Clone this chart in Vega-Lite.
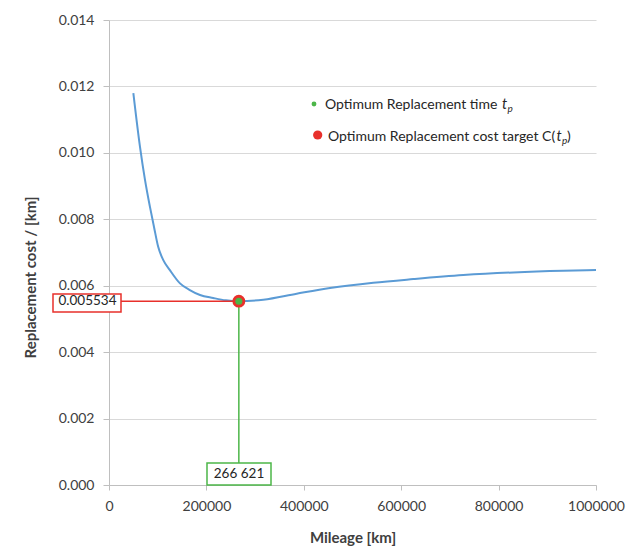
{
  "$schema": "https://vega.github.io/schema/vega-lite/v6.json",
  "autosize": {"type": "none"},
  "padding": {"left": 109, "top": 20, "right": 42, "bottom": 72},
  "width": 487,
  "height": 465,
  "background": "white",
  "config": {
    "font": "Lato",
    "view": {"stroke": null},
    "axis": {"labelFont": "Lato", "titleFont": "Lato", "labelColor": "#404040", "titleColor": "#404040"}
  },
  "datasets": {
    "curve": [
      {"mileage": 50000, "cost": 0.0118},
      {"mileage": 63650, "cost": 0.01018},
      {"mileage": 74000, "cost": 0.00918},
      {"mileage": 84000, "cost": 0.00838},
      {"mileage": 92400, "cost": 0.00777},
      {"mileage": 101000, "cost": 0.00717},
      {"mileage": 111500, "cost": 0.00677},
      {"mileage": 125000, "cost": 0.00647},
      {"mileage": 145800, "cost": 0.00607},
      {"mileage": 166000, "cost": 0.00587},
      {"mileage": 186900, "cost": 0.00572},
      {"mileage": 214000, "cost": 0.00563},
      {"mileage": 240000, "cost": 0.00556},
      {"mileage": 266621, "cost": 0.005534},
      {"mileage": 316800, "cost": 0.00558},
      {"mileage": 385400, "cost": 0.00576},
      {"mileage": 453800, "cost": 0.00593},
      {"mileage": 542700, "cost": 0.00609},
      {"mileage": 624900, "cost": 0.0062},
      {"mileage": 727500, "cost": 0.00632},
      {"mileage": 830200, "cost": 0.0064},
      {"mileage": 932900, "cost": 0.00645},
      {"mileage": 1000000, "cost": 0.00647}
    ],
    "optimum": [
      {"mileage": 266621, "cost": 0.005534, "axis_mileage": 0, "axis_cost": 0.000662}
    ],
    "red_box": [
      {"mileage": -114990, "mileage_end": 24641, "cost": 0.00575, "cost_end": 0.005209, "text_mileage": -44148, "text_cost": 0.005534, "label": "0.005534"}
    ],
    "green_box": [
      {"mileage": 201232, "mileage_end": 332649, "cost": 0.000662, "cost_end": 0, "text_mileage": 266940, "text_cost": 0.000331, "label": "266 621"}
    ],
    "legend": [
      {"mileage": 420945, "cost": 0.011471, "item": "time", "text_mileage": 443532, "text_cost": 0.011441, "label": "Optimum Replacement time", "t_mileage": 806982, "p_mileage": 818275},
      {"mileage": 428542, "cost": 0.010538, "item": "cost", "text_mileage": 449692, "text_cost": 0.010477, "label": "Optimum Replacement cost target C(", "t_mileage": 918891, "p_mileage": 930185, "close_mileage": 940452}
    ]
  },
  "layer": [
    {
      "data": {"name": "curve"},
      "mark": {"type": "line", "interpolate": "monotone", "color": "#5b9bd5", "strokeWidth": 2},
      "encoding": {
        "x": {
          "field": "mileage", "type": "quantitative",
          "scale": {"domain": [0, 1000000], "nice": false, "zero": false},
          "axis": {
            "title": "Mileage [km]", "values": [0, 200000, 400000, 600000, 800000, 1000000], "format": "d",
            "grid": false, "domainColor": "#bfbfbf", "tickColor": "#bfbfbf", "tickSize": 5,
            "labelPadding": 9, "labelFontSize": 14, "titleFontSize": 15, "titleFontWeight": "bold",
            "titleY": 52, "titleBaseline": "middle", "labelFlush": false
          }
        },
        "y": {
          "field": "cost", "type": "quantitative",
          "scale": {"domain": [0, 0.014], "nice": false, "zero": false},
          "axis": {
            "title": "Replacement cost / [km]", "values": [0, 0.002, 0.004, 0.006, 0.008, 0.01, 0.012, 0.014], "format": ".3f",
            "grid": true, "gridColor": "#d9d9d9", "domainColor": "#bfbfbf", "tickColor": "#bfbfbf", "tickSize": 6,
            "labelPadding": 9, "labelFontSize": 14, "titleFontSize": 15, "titleFontWeight": "bold",
            "titleX": -79, "titleY": 257, "titleAngle": -90, "titleBaseline": "middle", "titleAlign": "center", "labelFlush": false
          }
        }
      }
    },
    {
      "data": {"name": "optimum"},
      "mark": {"type": "rule", "color": "#e8302b", "strokeWidth": 1.5},
      "encoding": {
        "x": {"field": "axis_mileage", "type": "quantitative"},
        "x2": {"field": "mileage"},
        "y": {"field": "cost", "type": "quantitative"}
      }
    },
    {
      "data": {"name": "optimum"},
      "mark": {"type": "rule", "color": "#4cb648", "strokeWidth": 1.5},
      "encoding": {
        "x": {"field": "mileage", "type": "quantitative"},
        "y": {"field": "cost", "type": "quantitative"},
        "y2": {"field": "axis_cost"}
      }
    },
    {
      "data": {"name": "red_box"},
      "mark": {"type": "rect", "fill": "white", "stroke": "#e8302b", "strokeWidth": 1.5},
      "encoding": {
        "x": {"field": "mileage", "type": "quantitative"},
        "x2": {"field": "mileage_end"},
        "y": {"field": "cost", "type": "quantitative"},
        "y2": {"field": "cost_end"}
      }
    },
    {
      "data": {"name": "green_box"},
      "mark": {"type": "rect", "fill": "white", "stroke": "#4cb648", "strokeWidth": 1.5},
      "encoding": {
        "x": {"field": "mileage", "type": "quantitative"},
        "x2": {"field": "mileage_end"},
        "y": {"field": "cost", "type": "quantitative"},
        "y2": {"field": "cost_end"}
      }
    },
    {
      "data": {"name": "red_box"},
      "mark": {"type": "text", "font": "Lato", "fontSize": 13.5, "color": "#262626", "align": "center", "baseline": "middle"},
      "encoding": {
        "x": {"field": "text_mileage", "type": "quantitative"},
        "y": {"field": "text_cost", "type": "quantitative"},
        "text": {"field": "label"}
      }
    },
    {
      "data": {"name": "green_box"},
      "mark": {"type": "text", "font": "Lato", "fontSize": 13.5, "color": "#262626", "align": "center", "baseline": "middle"},
      "encoding": {
        "x": {"field": "text_mileage", "type": "quantitative"},
        "y": {"field": "text_cost", "type": "quantitative"},
        "text": {"field": "label"}
      }
    },
    {
      "data": {"name": "optimum"},
      "mark": {"type": "point", "filled": true, "color": "#e8302b", "size": 165, "opacity": 1},
      "encoding": {
        "x": {"field": "mileage", "type": "quantitative"},
        "y": {"field": "cost", "type": "quantitative"}
      }
    },
    {
      "data": {"name": "optimum"},
      "mark": {"type": "point", "filled": true, "color": "#4cb648", "size": 50, "opacity": 1},
      "encoding": {
        "x": {"field": "mileage", "type": "quantitative"},
        "y": {"field": "cost", "type": "quantitative"}
      }
    },
    {
      "data": {"name": "legend"},
      "mark": {"type": "point", "filled": true, "opacity": 1},
      "encoding": {
        "x": {"field": "mileage", "type": "quantitative"},
        "y": {"field": "cost", "type": "quantitative"},
        "color": {"field": "item", "type": "nominal", "scale": {"domain": ["time", "cost"], "range": ["#4cb648", "#e8302b"]}, "legend": null},
        "size": {"field": "item", "type": "nominal", "scale": {"domain": ["time", "cost"], "range": [24, 85]}, "legend": null}
      }
    },
    {
      "data": {"name": "legend"},
      "mark": {"type": "text", "font": "Lato", "fontSize": 14, "color": "#262626", "align": "left", "baseline": "middle"},
      "encoding": {
        "x": {"field": "text_mileage", "type": "quantitative"},
        "y": {"field": "text_cost", "type": "quantitative"},
        "text": {"field": "label"}
      }
    },
    {
      "data": {"name": "legend"},
      "mark": {"type": "text", "font": "Lato", "fontSize": 14.5, "fontStyle": "italic", "color": "#262626", "align": "left", "baseline": "middle", "text": "t"},
      "encoding": {
        "x": {"field": "t_mileage", "type": "quantitative"},
        "y": {"field": "text_cost", "type": "quantitative"}
      }
    },
    {
      "data": {"name": "legend"},
      "mark": {"type": "text", "font": "Lato", "fontSize": 10, "fontStyle": "italic", "color": "#262626", "align": "left", "baseline": "middle", "dy": 4, "text": "p"},
      "encoding": {
        "x": {"field": "p_mileage", "type": "quantitative"},
        "y": {"field": "text_cost", "type": "quantitative"}
      }
    },
    {
      "data": {"name": "legend"},
      "transform": [{"filter": "isValid(datum.close_mileage)"}],
      "mark": {"type": "text", "font": "Lato", "fontSize": 14, "color": "#262626", "align": "left", "baseline": "middle", "text": ")"},
      "encoding": {
        "x": {"field": "close_mileage", "type": "quantitative"},
        "y": {"field": "text_cost", "type": "quantitative"}
      }
    }
  ]
}
